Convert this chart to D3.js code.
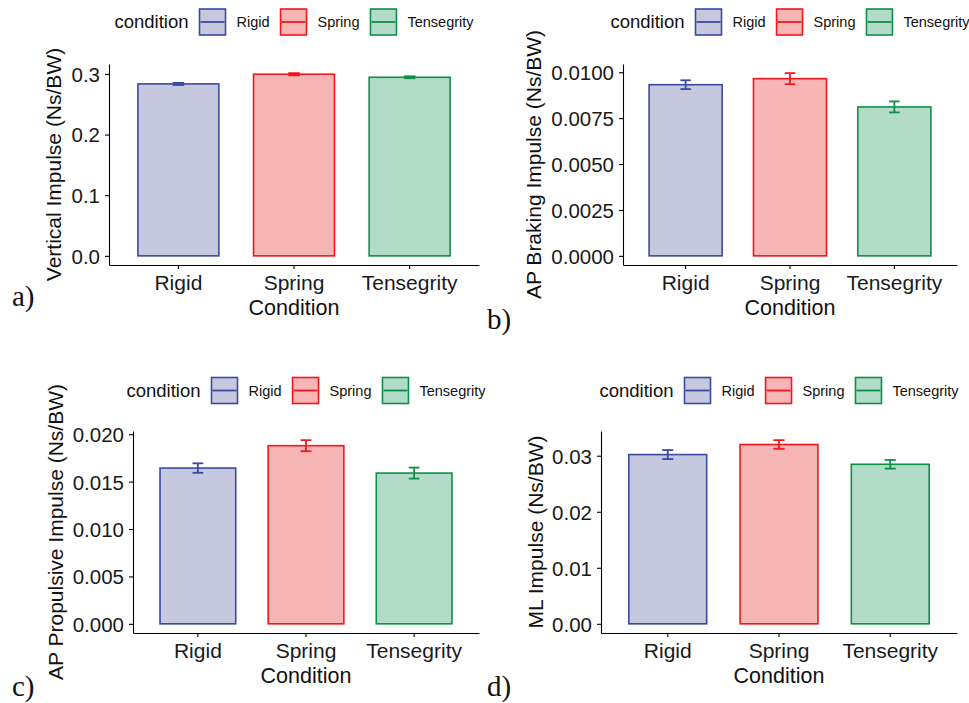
<!doctype html>
<html lang="en">
<head>
  <meta charset="utf-8">
  <title>Impulse by condition</title>
  <script src="https://d3js.org/d3.v7.min.js"></script>
  <style>
    body { margin: 0; background: #fff; }
    svg { display: block; font-family: "Liberation Sans", Arial, sans-serif; }
    .axis path, .axis line { stroke: #000; stroke-width: 1.1px; }
    .axis text { fill: #1a1a1a; font-size: 20.5px; }
  </style>
</head>
<body>
<div class="chart-container"></div>
<script>
  // categories and values (means and error half-widths)
  const conditions = ['Rigid', 'Spring', 'Tensegrity'];

  const verticalMean = [0.2835, 0.2995, 0.2945];
  const verticalErr = [0.0018, 0.0018, 0.0016];

  const brakingMean = [0.00932, 0.00965, 0.00811];
  const brakingErr = [0.00024, 0.00030, 0.00030];

  const propulsiveMean = [0.01643, 0.01879, 0.01590];
  const propulsiveErr = [0.00050, 0.00058, 0.00058];

  const mlMean = [0.0302, 0.0320, 0.02847];
  const mlErr = [0.00080, 0.00077, 0.00077];

  const verticalTicks = [0, 0.1, 0.2, 0.3];
  const brakingTicks = [0, 0.0025, 0.005, 0.0075, 0.01];
  const propulsiveTicks = [0, 0.005, 0.01, 0.015, 0.02];
  const mlTicks = [0, 0.01, 0.02, 0.03];

  const strokeColours = ['#3b4a9c', '#f2161d', '#0e8f48'];
  const fillColours = ['#c5c9df', '#f8b5b6', '#b3dcc8'];

  const width = 969;
  const height = 703;

  const svg = d3.select('.chart-container').append('svg')
    .attr('width', width)
    .attr('height', height);

  const panels = [
    { mean: verticalMean, err: verticalErr, ticks: verticalTicks, fmt: '.1f',
      title: 'Vertical Impulse (Ns/BW)', tag: 'a)',
      left: 109, right: 479, top: 64, bottom: 265, titleX: 61, legendY: 22, tagX: 12, tagY: 306 },
    { mean: brakingMean, err: brakingErr, ticks: brakingTicks, fmt: '.4f',
      title: 'AP Braking Impulse (Ns/BW)', tag: 'b)',
      left: 623, right: 957, top: 64, bottom: 265, titleX: 541, legendY: 22, tagX: 487, tagY: 329 },
    { mean: propulsiveMean, err: propulsiveErr, ticks: propulsiveTicks, fmt: '.3f',
      title: 'AP Propulsive Impulse (Ns/BW)', tag: 'c)',
      left: 133, right: 479, top: 431, bottom: 633, titleX: 63, legendY: 390.5, tagX: 12, tagY: 696 },
    { mean: mlMean, err: mlErr, ticks: mlTicks, fmt: '.2f',
      title: 'ML Impulse (Ns/BW)', tag: 'd)',
      left: 601, right: 957, top: 431, bottom: 633, titleX: 543, legendY: 390.5, tagX: 487, tagY: 696 }
  ];

  panels.forEach(p => drawPanel(p));

  function drawPanel(p) {
    const rows = conditions.map((c, i) => ({
      name: c, value: p.mean[i], err: p.err[i], i: i
    }));

    // ggplot-like expansion: 5% of the data range on each side
    const top = d3.max(rows, d => d.value + d.err);
    const pad = top * 0.05;

    const x = d3.scaleBand()
      .domain(conditions)
      .range([p.left, p.right])
      .paddingInner(0)
      .paddingOuter(0.1);

    const y = d3.scaleLinear()
      .domain([-pad, top + pad])
      .range([p.bottom, p.top]);

    const g = svg.append('g');

    const barW = x.bandwidth() * 0.7;
    const capW = x.bandwidth() * 0.1;

    g.selectAll('rect.bar')
      .data(rows)
      .enter()
      .append('rect')
      .attr('class', 'bar')
      .attr('x', d => x(d.name) + (x.bandwidth() - barW) / 2)
      .attr('width', barW)
      .attr('y', d => y(d.value))
      .attr('height', d => y(0) - y(d.value))
      .style('fill', d => fillColours[d.i])
      .style('stroke', d => strokeColours[d.i])
      .style('stroke-width', 1.6);

    const bars = g.selectAll('g.err')
      .data(rows)
      .enter()
      .append('g')
      .attr('class', 'err')
      .style('stroke', d => strokeColours[d.i])
      .style('stroke-width', 1.8)
      .style('fill', 'none');

    const cx = d => x(d.name) + x.bandwidth() / 2;
    bars.append('line')
      .attr('x1', cx).attr('x2', cx)
      .attr('y1', d => y(d.value - d.err))
      .attr('y2', d => y(d.value + d.err));
    bars.append('line')
      .attr('x1', d => cx(d) - capW / 2).attr('x2', d => cx(d) + capW / 2)
      .attr('y1', d => y(d.value + d.err)).attr('y2', d => y(d.value + d.err));
    bars.append('line')
      .attr('x1', d => cx(d) - capW / 2).attr('x2', d => cx(d) + capW / 2)
      .attr('y1', d => y(d.value - d.err)).attr('y2', d => y(d.value - d.err));

    // axes
    g.append('g')
      .attr('class', 'axis')
      .attr('transform', `translate(${p.left},0)`)
      .call(d3.axisLeft(y)
        .tickValues(p.ticks)
        .tickFormat(d3.format(p.fmt))
        .tickSize(4)
        .tickSizeOuter(0)
        .tickPadding(5))
      .selectAll('text')
      .attr('dy', '0.36em');

    g.append('g')
      .attr('class', 'axis')
      .attr('transform', `translate(0,${p.bottom})`)
      .call(d3.axisBottom(x)
        .tickSize(4)
        .tickSizeOuter(0)
        .tickPadding(6))
      .selectAll('text')
      .style('font-size', '21px');

    g.append('text')
      .attr('x', (p.left + p.right) / 2)
      .attr('y', p.bottom + 50)
      .style('text-anchor', 'middle')
      .style('font-size', '21.5px')
      .style('fill', '#111')
      .text('Condition');

    g.append('text')
      .attr('transform', `translate(${p.titleX},${(p.top + p.bottom) / 2}) rotate(-90)`)
      .style('text-anchor', 'middle')
      .style('font-size', '21px')
      .style('fill', '#111')
      .text(p.title);

    // panel tag
    svg.append('text')
      .attr('x', p.tagX)
      .attr('y', p.tagY)
      .style('font-family', '"Liberation Serif", "DejaVu Serif", serif')
      .style('font-size', '29px')
      .style('fill', '#111')
      .text(p.tag);

    drawLegend(p);
  }

  function drawLegend(p) {
    const lg = svg.append('g');
    const box = 26;
    const gap = 11;

    const head = lg.append('text')
      .attr('x', 0)
      .attr('y', p.legendY)
      .attr('dy', '0.35em')
      .style('font-size', '18.5px')
      .style('fill', '#111')
      .text('condition');

    let cursor = head.node().getComputedTextLength() + gap;

    conditions.forEach((c, i) => {
      lg.append('rect')
        .attr('x', cursor)
        .attr('y', p.legendY - box / 2)
        .attr('width', box)
        .attr('height', box)
        .style('fill', fillColours[i])
        .style('stroke', strokeColours[i])
        .style('stroke-width', 1.6);
      lg.append('line')
        .attr('x1', cursor + 1).attr('x2', cursor + box - 1)
        .attr('y1', p.legendY).attr('y2', p.legendY)
        .style('stroke', strokeColours[i])
        .style('stroke-width', 1.8);
      cursor += box + gap;
      const label = lg.append('text')
        .attr('x', cursor)
        .attr('y', p.legendY)
        .attr('dy', '0.35em')
        .style('font-size', '14.5px')
        .style('fill', '#111')
        .text(c);
      cursor += label.node().getComputedTextLength() + gap;
    });

    const total = cursor - gap;
    const shift = (p.left + p.right) / 2 - total / 2;
    lg.attr('transform', `translate(${shift},0)`);
  }
</script>
</body>
</html>
